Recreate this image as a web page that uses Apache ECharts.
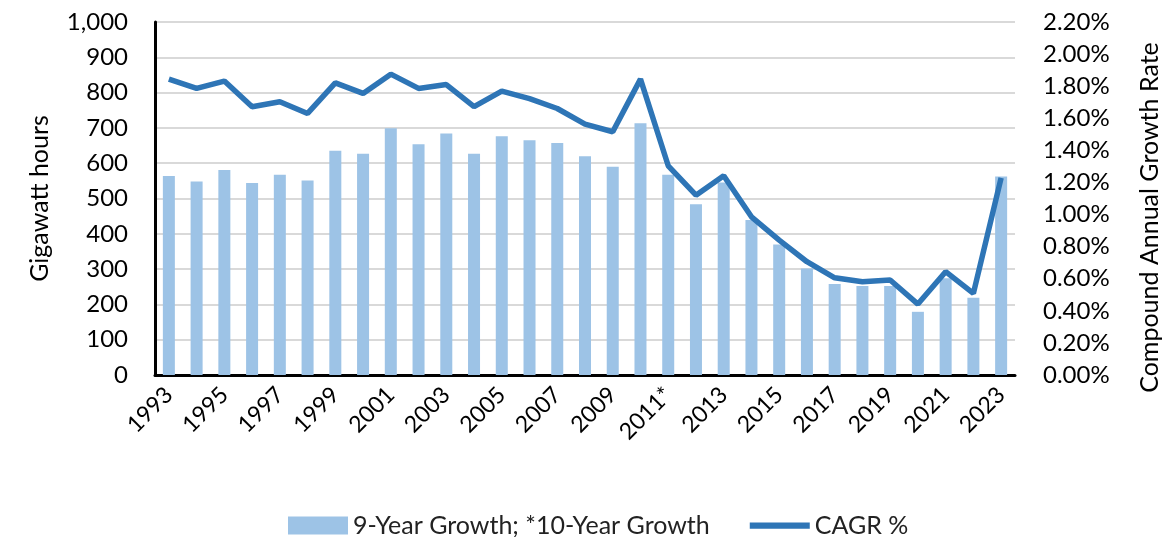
<!DOCTYPE html>
<html>
<head>
<meta charset="utf-8">
<script src="https://cdn.jsdelivr.net/npm/echarts@6/dist/echarts.min.js"></script>
<style>
  html, body { margin: 0; padding: 0; background: #fff; }
  #chart1 { width: 1175px; height: 537px; }
</style>
</head>
<body>
<div id="chart1"></div>
<script>
var yearList = ['1993','1994','1995','1996','1997','1998','1999','2000','2001','2002',
	'2003','2004','2005','2006','2007','2008','2009','2010','2011*','2012',
	'2013','2014','2015','2016','2017','2018','2019','2020','2021','2022','2023'];

// 9-year growth (GWh), 2011 is a 10-year growth
var growthList = [564,548,581,544,567,551,635,627,699,654,
	684,627,676,665,657,620,590,713,567,484,
	545,439,370,302,258,252,252,179,274,219,562];

// compound annual growth rate, %
var cagrList = [1.844,1.786,1.832,1.672,1.703,1.630,1.821,1.755,1.875,1.786,
	1.810,1.672,1.769,1.722,1.661,1.564,1.516,1.844,1.304,1.121,
	1.242,0.986,0.841,0.706,0.606,0.581,0.592,0.442,0.644,0.509,1.229];

var leftTicks = [0, 1000, 100];
var rightTicks = [0, 2.2, 0.2];

var fontName = 'Lato, "Open Sans", sans-serif';

var chart = echarts.init(document.getElementById('chart1'));
chart.setOption({
	animation: false,
	textStyle: { fontFamily: fontName, color: '#000' },
	grid: { left: 155, right: 160, top: 22, bottom: 162 },
	legend: {
		top: 508,
		left: 283,
		itemGap: 40,
		itemWidth: 60,
		itemHeight: 18,
		textStyle: { fontSize: 25, color: '#222', fontFamily: fontName },
		data: [
			{ name: '9-Year Growth; *10-Year Growth', icon: 'rect' },
			{ name: 'CAGR %', icon: 'path://M0,0h48v5h-48z' }
		]
	},
	xAxis: [{
		type: 'category',
		data: yearList,
		axisLine: { lineStyle: { color: '#000', width: 3 } },
		axisTick: { show: false },
		axisLabel: {
			interval: 1,
			rotate: 45,
			fontSize: 23,
			color: '#000',
			margin: 16
		}
	}],
	yAxis: [{
		type: 'value',
		name: 'Gigawatt hours',
		nameLocation: 'middle',
		nameGap: 103,
		nameTextStyle: { fontSize: 25, color: '#000' },
		min: leftTicks[0],
		max: leftTicks[1],
		interval: leftTicks[2],
		axisLine: { show: true, lineStyle: { color: '#000', width: 3 } },
		axisTick: { show: false },
		splitLine: { lineStyle: { color: '#d9d9d9', width: 2 } },
		axisLabel: {
			fontSize: 24,
			color: '#000',
			margin: 27,
			formatter: function(v) { return v.toLocaleString('en-US'); }
		}
	}, {
		type: 'value',
		name: 'Compound Annual Growth Rate',
		nameLocation: 'middle',
		nameGap: 122,
		nameRotate: 90,
		nameTextStyle: { fontSize: 25, color: '#000', padding: [0, 38, 0, 0] },
		min: rightTicks[0],
		max: rightTicks[1],
		interval: rightTicks[2],
		axisLine: { show: false },
		axisTick: { show: false },
		splitLine: { show: false },
		axisLabel: {
			fontSize: 24,
			color: '#000',
			margin: 28,
			formatter: function(v) { return v.toFixed(2) + '%'; }
		}
	}],
	series: [{
		name: '9-Year Growth; *10-Year Growth',
		type: 'bar',
		data: growthList,
		barWidth: 12,
		itemStyle: { color: '#9dc3e6' }
	}, {
		name: 'CAGR %',
		type: 'line',
		yAxisIndex: 1,
		data: cagrList,
		symbol: 'none',
		lineStyle: { color: '#2e75b6', width: 5.5 },
		itemStyle: { color: '#2e75b6' }
	}]
});
</script>
</body>
</html>
